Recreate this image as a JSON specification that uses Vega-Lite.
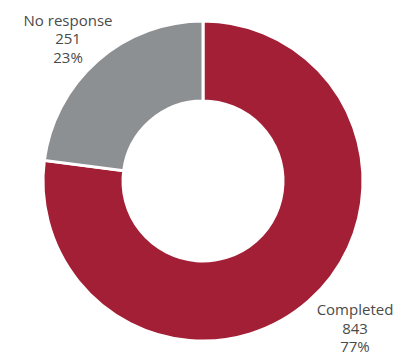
{
  "$schema": "https://vega.github.io/schema/vega-lite/v6.json",
  "autosize": {"type": "fit", "contains": "padding"},
  "width": 398,
  "height": 356,
  "padding": {"left": 8, "right": 0, "top": 6, "bottom": 0},
  "background": "white",
  "view": {"stroke": null},
  "data": {"values": [
    {"status": "Completed", "count": 843, "pct": "77%", "order": 1},
    {"status": "No response", "count": 251, "pct": "23%", "order": 2}
  ]},
  "transform": [
    {"stack": "count", "groupby": [], "sort": [{"field": "order"}], "as": ["t0", "t1"]},
    {"calculate": "(datum.t0 + datum.t1) / 2", "as": "tmid"},
    {"calculate": "[datum.status, format(datum.count, 'd'), datum.pct]", "as": "label"}
  ],
  "layer": [
    {"mark": {"type": "arc", "outerRadius": 160, "innerRadius": 80, "stroke": "white", "strokeWidth": 3},
     "encoding": {
       "theta": {"field": "t0", "type": "quantitative", "scale": {"domain": [0, 1094]}},
       "theta2": {"field": "t1"},
       "color": {"field": "status", "type": "nominal", "legend": null,
         "scale": {"domain": ["Completed", "No response"], "range": ["#A21F36", "#8D9092"]}}
     }},
    {"transform": [{"filter": "datum.status == 'No response'"}],
     "mark": {"type": "text", "radius": 200, "dx": -3, "dy": -10, "font": "Open Sans", "fontSize": 15, "lineHeight": 18.5, "align": "center", "baseline": "middle", "color": "#4a4a4a"},
     "encoding": {"theta": {"field": "tmid", "type": "quantitative"}, "text": {"field": "label"}}},
    {"transform": [{"filter": "datum.status == 'Completed'"}],
     "mark": {"type": "text", "radius": 200, "dx": 20, "dy": -21, "font": "Open Sans", "fontSize": 15, "lineHeight": 18.5, "align": "center", "baseline": "middle", "color": "#4a4a4a"},
     "encoding": {"theta": {"field": "tmid", "type": "quantitative"}, "text": {"field": "label"}}}
  ]
}
